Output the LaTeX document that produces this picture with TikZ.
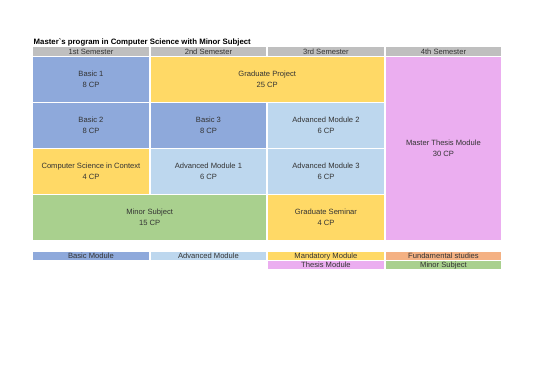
\documentclass[tikz,border=0pt]{standalone}
\usepackage{fontspec}
\setmainfont{Liberation Sans}
\usepackage{xcolor}
\definecolor{headGray}{HTML}{BFBFBF}
\definecolor{basicBlue}{HTML}{8EA9DB}
\definecolor{advBlue}{HTML}{BDD7EE}
\definecolor{mandYellow}{HTML}{FFD966}
\definecolor{thesisPink}{HTML}{EBAEF0}
\definecolor{minorGreen}{HTML}{A9D08E}
\definecolor{fundOrange}{HTML}{F4B183}
\definecolor{cellText}{HTML}{333333}

\begin{document}
\begin{tikzpicture}[x=1pt,y=-1pt,
  cell/.style={rectangle, draw=none, inner sep=0pt, anchor=north west, align=center,
    text=cellText, font=\fontsize{7.6}{11}\selectfont},
  head/.style={cell, fill=headGray, minimum width=115.5pt, minimum height=8.5pt},
  key/.style={cell, minimum width=115.5pt, minimum height=8pt}]
  \fill[white] (0,0) rectangle (541,383);
  \node[anchor=base west, inner sep=0pt, text=black, font=\bfseries\fontsize{7.8}{9}\selectfont] (title) at (33.5,44)
    {Master\textasciigrave s program in Computer Science with Minor Subject};
  % semester headers
  \node[head] (semA) at (33,47) {1st Semester};
  \node[head] (semB) at (150.5,47) {2nd Semester};
  \node[head] (semC) at (268,47) {3rd Semester};
  \node[head] (semD) at (385.5,47) {4th Semester};
  % modules
  \node[cell, fill=basicBlue, minimum width=115.5pt, minimum height=45pt] (basicA) at (33,57) {Basic 1\\8 CP};
  \node[cell, fill=mandYellow, minimum width=233pt, minimum height=45pt] (gradProject) at (150.5,57) {Graduate Project\\25 CP};
  \node[cell, fill=thesisPink, minimum width=115.5pt, minimum height=183pt] (thesis) at (385.5,57) {Master Thesis Module\\30 CP};
  \node[cell, fill=basicBlue, minimum width=115.5pt, minimum height=45pt] (basicB) at (33,103) {Basic 2\\8 CP};
  \node[cell, fill=basicBlue, minimum width=115.5pt, minimum height=45pt] (basicC) at (150.5,103) {Basic 3\\8 CP};
  \node[cell, fill=advBlue, minimum width=115.5pt, minimum height=45pt] (advB) at (268,103) {Advanced Module 2\\6 CP};
  \node[cell, fill=mandYellow, minimum width=115.5pt, minimum height=45pt] (context) at (33,149) {Computer Science in Context\\4 CP};
  \node[cell, fill=advBlue, minimum width=115.5pt, minimum height=45pt] (advA) at (150.5,149) {Advanced Module 1\\6 CP};
  \node[cell, fill=advBlue, minimum width=115.5pt, minimum height=45pt] (advC) at (268,149) {Advanced Module 3\\6 CP};
  \node[cell, fill=minorGreen, minimum width=233pt, minimum height=45pt] (minor) at (33,195) {Minor Subject\\15 CP};
  \node[cell, fill=mandYellow, minimum width=115.5pt, minimum height=45pt] (seminar) at (268,195) {Graduate Seminar\\4 CP};
  % legend
  \node[key, fill=basicBlue] (keyBasic) at (33,252) {Basic Module};
  \node[key, fill=advBlue] (keyAdv) at (150.5,252) {Advanced Module};
  \node[key, fill=mandYellow] (keyMand) at (268,252) {Mandatory Module};
  \node[key, fill=fundOrange] (keyFund) at (385.5,252) {Fundamental studies};
  \node[key, fill=thesisPink] (keyThesis) at (268,261) {Thesis Module};
  \node[key, fill=minorGreen] (keyMinor) at (385.5,261) {Minor Subject};
\end{tikzpicture}
\end{document}
